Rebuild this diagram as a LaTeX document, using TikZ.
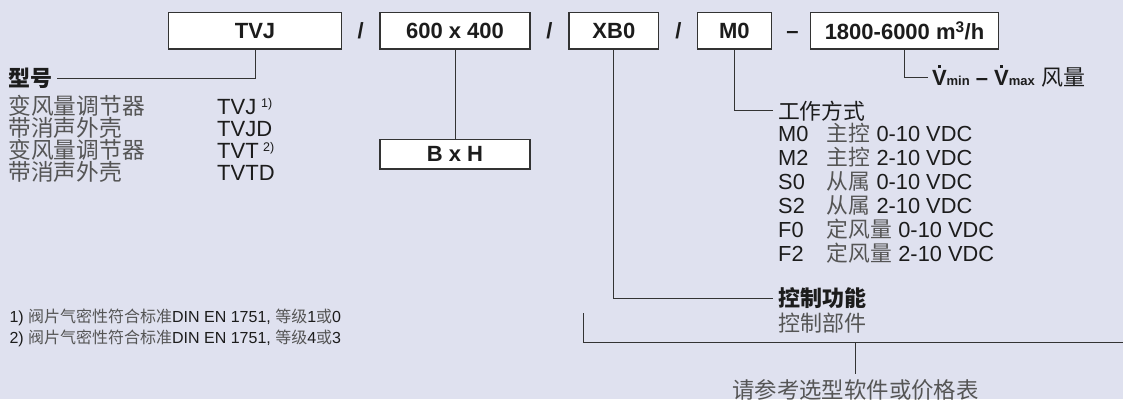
\documentclass[tikz,border=0pt]{standalone}
\usepackage{fontspec}
\setmainfont{Liberation Sans}
\newfontfamily\cjk{Noto Sans CJK SC}
\definecolor{bgc}{HTML}{DFE1EF}
\definecolor{inkc}{HTML}{1C1C1C}
\definecolor{softc}{HTML}{555555}
\definecolor{linec}{HTML}{333333}
\newcommand\zh[1]{{\cjk #1}}
\newcommand\zhs[1]{{\cjk\color{softc}#1}}
\newcommand\vdotV{\ooalign{V\cr\hidewidth\raisebox{0.78em}{\rule{0.14em}{0.14em}}\hidewidth\cr}}
\newcommand\fs[1]{\fontsize{#1}{#1}\selectfont}
\begin{document}
\begin{tikzpicture}[x=1pt,y=-1pt,
  every node/.style={inner sep=0pt, text=inkc},
  codebox/.style={draw=linec, line width=1.2pt, fill=white, minimum height=36.7pt, font=\fs{22}\bfseries},
  sepmark/.style={anchor=base, font=\fs{22}\bfseries},
  conn/.style={draw=linec, line width=1pt},
  lbl/.style={anchor=west, outer xsep=5pt},
  row/.style={anchor=base west}]
\fill[bgc] (0,0) rectangle (1123,399);
\useasboundingbox (0,0) rectangle (1123,399);

% code boxes
\node[codebox, minimum width=173.4pt] (tvj) at (255,30.65) {TVJ};
\node[sepmark] (s1) at (360.8,38.8) {/};
\node[codebox, minimum width=150pt] (size) at (455,30.65) {600 x 400};
\node[sepmark] (s2) at (549.5,38.8) {/};
\node[codebox, minimum width=89.7pt] (xb) at (613.85,30.65) {XB0};
\node[sepmark] (s3) at (678.3,38.8) {/};
\node[codebox, minimum width=74pt] (mode) at (734.3,30.65) {M0};
\node[sepmark] (s4) at (792.5,38.8) {–};
\node[codebox, minimum width=187.6pt] (flow) at (904.5,30.65) {1800-6000 m\textsuperscript{3}/h};
\node[codebox, minimum width=150pt, minimum height=29.7pt] (bxh) at (455,154.2) {B x H};

% left group
\node[lbl, font=\fs{22}] (xinghao) at (3.3,78.5) {\zh{\bfseries 型号}};
\node[row, font=\fs{22.7}] (n1) at (8.3,114.5) {\zhs{变风量调节器}};
\node[row, font=\fs{22}] (c1) at (217,114.5) {TVJ};
\node[row, font=\fs{12.5}] (f1) at (261,107.5) {1)};
\node[row, font=\fs{22.7}] (n2) at (8.3,136.5) {\zhs{带消声外壳}};
\node[row, font=\fs{22}] (c2) at (217,136.5) {TVJD};
\node[row, font=\fs{22.7}] (n3) at (8.3,158.5) {\zhs{变风量调节器}};
\node[row, font=\fs{22}] (c3) at (217,158.5) {TVT};
\node[row, font=\fs{12.5}] (f2) at (263,151.5) {2)};
\node[row, font=\fs{22.7}] (n4) at (8.3,180.5) {\zhs{带消声外壳}};
\node[row, font=\fs{22}] (c4) at (217,180.5) {TVTD};

% footnotes
\node[row, font=\fs{16}] (fn1) at (9.3,322.5) {1) \zhs{阀片气密性符合标准}DIN EN 1751, \zhs{等级}1\zhs{或}0};
\node[row, font=\fs{16}] (fn2) at (9.3,343.5) {2) \zhs{阀片气密性符合标准}DIN EN 1751, \zhs{等级}4\zhs{或}3};

% flow range label
\node[lbl, outer xsep=4pt, font=\fs{22}\bfseries] (vrange) at (928,77.3) {\vdotV{\fs{13}min} – \vdotV{\fs{13}max} \zh{\mdseries 风量}};

% operating mode
\node[lbl, font=\fs{21.8}] (gzfs) at (773,110.7) {\zh{工作方式}};
\node[row, font=\fs{21.8}] (r1) at (778,141.7) {\makebox[48.7pt][l]{M0}\zhs{主控} 0-10 VDC};
\node[row, font=\fs{21.8}] (r2) at (778,165.7) {\makebox[48.7pt][l]{M2}\zhs{主控} 2-10 VDC};
\node[row, font=\fs{21.8}] (r3) at (778,189.7) {\makebox[48.7pt][l]{S0}\zhs{从属} 0-10 VDC};
\node[row, font=\fs{21.8}] (r4) at (778,213.7) {\makebox[48.7pt][l]{S2}\zhs{从属} 2-10 VDC};
\node[row, font=\fs{21.8}] (r5) at (778,237.7) {\makebox[48.7pt][l]{F0}\zhs{定风量} 0-10 VDC};
\node[row, font=\fs{21.8}] (r6) at (778,261.7) {\makebox[48.7pt][l]{F2}\zhs{定风量} 2-10 VDC};

% control function
\node[lbl, font=\fs{22}] (kzgn) at (773,298) {\zh{\bfseries 控制功能}};
\node[lbl, font=\fs{22}] (kzbj) at (773,323.3) {\zhs{控制部件}};
\node[anchor=base, font=\fs{22.4}, outer ysep=5pt] (ref) at (855.5,398) {\zhs{请参考选型软件或价格表}};

\coordinate (bl) at (583.3,313.3);
\coordinate (br) at (1123,342.7);

% connectors
\draw[conn] (tvj.south) |- (xinghao.east);
\draw[conn] (size.south) -- (bxh.north);
\draw[conn] (xb.south) |- (kzgn.west);
\draw[conn] (mode.south) |- (gzfs.west);
\draw[conn] (flow.south) |- (vrange.west);
\draw[conn] (bl) |- (br);
\draw[conn] (ref.north |- br) -- (ref.north);
\end{tikzpicture}
\end{document}
